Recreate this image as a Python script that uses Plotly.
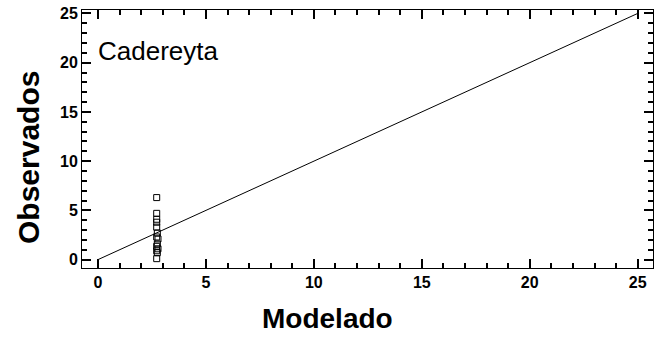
import plotly.graph_objects as go

# Modelled vs observed values for Cadereyta
modelado = [2.72, 2.72, 2.72, 2.72, 2.72, 2.75, 2.72, 2.78, 2.75, 2.72, 2.78, 2.72, 2.75, 2.72]
observados = [6.3, 4.7, 4.1, 3.8, 3.3, 2.7, 2.3, 2.1, 1.6, 1.35, 1.1, 0.9, 0.7, 0.1]

# 1:1 reference line
ref_x = [0, 25]
ref_y = [0, 25]

tick_step = 5
minor_step = 1

FONT = "Liberation Sans, Arial, sans-serif"

fig = go.Figure()
fig.add_trace(go.Scatter(x=ref_x, y=ref_y, mode="lines",
                         line=dict(color="black", width=1), hoverinfo="skip"))
fig.add_trace(go.Scatter(x=modelado, y=observados, mode="markers",
                         marker=dict(symbol="square-open", size=6, color="black",
                                     line=dict(width=1, color="black"))))

for upd, rng in ((fig.update_xaxes, [-0.74, 25.71]), (fig.update_yaxes, [-0.85, 25.35])):
    upd(range=rng, showgrid=False, zeroline=False,
        showline=True, linecolor="black", linewidth=1, mirror="allticks",
        ticks="inside", ticklen=9, tickwidth=1.5, tickcolor="black",
        tick0=0, dtick=tick_step,
        minor=dict(ticks="inside", dtick=minor_step, ticklen=5, tickwidth=1.5,
                   tickcolor="black"),
        tickfont=dict(family="Liberation Sans", size=16, color="black", weight="bold"))

fig.add_annotation(text="Cadereyta", xref="x", yref="y", x=-0.1, y=21.2,
                   xanchor="left", yanchor="middle", showarrow=False,
                   font=dict(family=FONT, size=26, color="black"))

fig.add_annotation(text="Modelado", x=(327 - 82) / (653 - 82), y=(268 - 318) / (268 - 10),
                   xref="paper", yref="paper", showarrow=False,
                   xanchor="center", yanchor="middle",
                   font=dict(family=FONT, size=28, color="black", weight="bold"))
fig.add_annotation(text="Observados", x=(28 - 82) / (653 - 82), y=(268 - 158) / (268 - 10),
                   xref="paper", yref="paper", showarrow=False, textangle=-90,
                   xanchor="center", yanchor="middle",
                   font=dict(family=FONT, size=30, color="black", weight="bold"))

fig.update_layout(
    width=654, height=337,
    margin=dict(l=82, r=1, t=10, b=69),
    paper_bgcolor="white", plot_bgcolor="white",
    showlegend=False,
)

fig.write_html("out.html")
